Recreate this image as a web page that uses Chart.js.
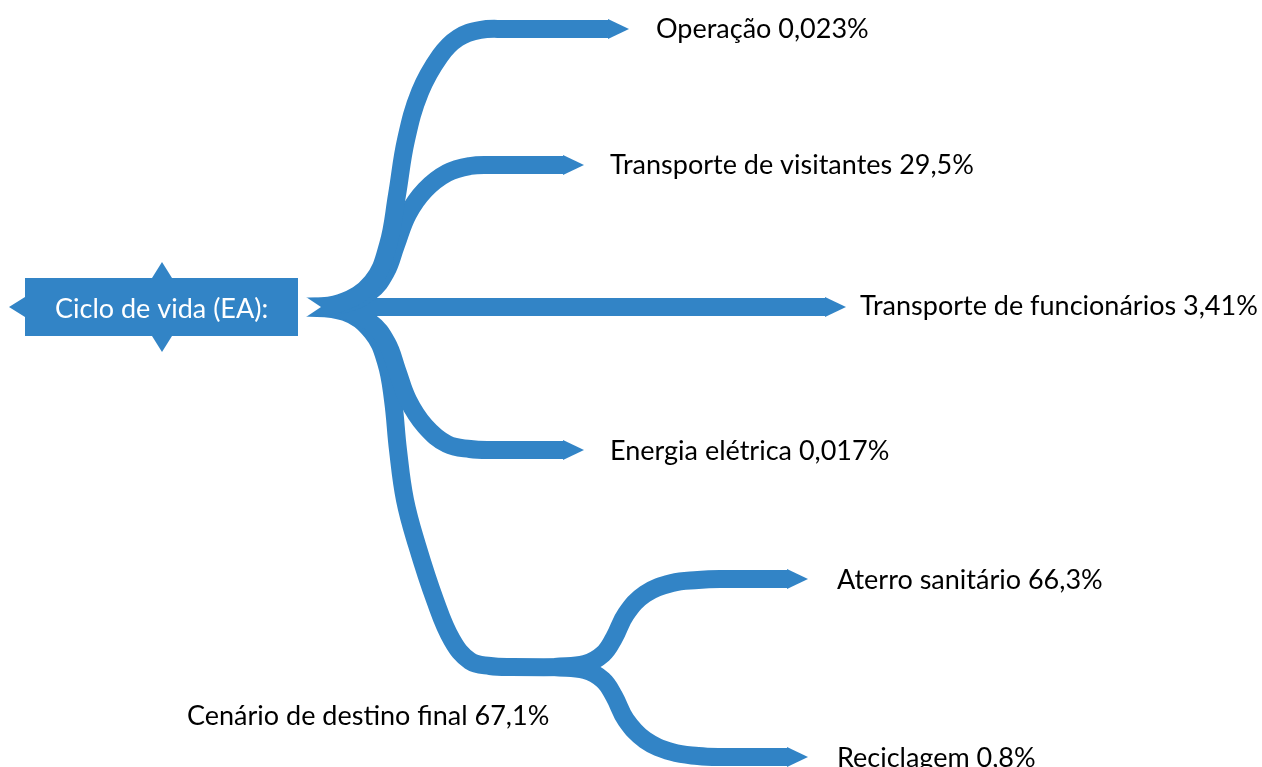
<!DOCTYPE html>
<html>
<head>
<meta charset="utf-8">
<script src="https://cdn.jsdelivr.net/npm/chart.js@4.4.1/dist/chart.umd.min.js"></script>
<style>
  html, body { margin: 0; padding: 0; background: #fff; overflow: hidden; }
  canvas { display: block; }
</style>
</head>
<body>
<canvas id="lifeCycle" width="1262" height="767"></canvas>
<script>
// --- content ---
const rootLabel = "Ciclo de vida (EA):";
const branchNames = [
  "Operação",
  "Transporte de visitantes",
  "Transporte de funcionários",
  "Energia elétrica",
  "Cenário de destino final",
  "Aterro sanitário",
  "Reciclagem"
];
const branchShares = [0.023, 29.5, 3.41, 0.017, 67.1, 66.3, 0.8];

// --- branch routes (page coordinates) ---
const opX  = [300, 340, 372, 388, 397, 406, 420, 440, 458, 480, 505, 608];
const opY  = [307, 303, 282, 245, 195, 140, 92, 56, 38, 30, 29, 29];
const visX = [300, 340, 370, 386, 396, 408, 425, 447, 470, 492, 563];
const visY = [307, 305, 292, 272, 245, 214, 190, 173, 166, 165, 165];
const funX = [300, 825];
const funY = [307, 307];
const eneX = [300, 340, 370, 387, 397, 408, 425, 447, 470, 492, 563];
const eneY = [307, 309, 322, 343, 370, 400, 426, 444, 449, 450, 450];
const cenX = [300, 345, 372, 386, 393, 398, 405, 417, 435, 452, 470, 490, 512, 600];
const cenY = [307, 312, 332, 362, 400, 450, 500, 545, 600, 640, 661, 666, 667, 667];
const ateX = [555, 585, 603, 614, 626, 645, 672, 698, 720, 787];
const ateY = [667, 664, 654, 638, 614, 594, 583, 580, 579, 579];
const recX = [555, 585, 603, 614, 626, 645, 672, 698, 720, 787];
const recY = [667, 670, 680, 696, 720, 740, 752, 756, 757, 757];

// label anchors (left x, text baseline)
const labelX = [656, 610, 860, 610, 187, 837, 837];
const labelY = [38, 174, 315, 460, 725, 589, 767];

// root node shape
const rootLeft = 25, rootRight = 298, rootTop = 278, rootBottom = 336, rootMidX = 162;
const rootSpike = 16, rootSpikeHalf = 10;

const BLUE = "#3284c6";
const LINE_W = 18;

function fmtShare(v) {
  return String(v).replace(".", ",") + "%";
}

function toPoints(xs, ys) {
  return xs.map((x, i) => ({ x: x, y: ys[i] }));
}

function makeArrowHead(len, h, color) {
  const c = document.createElement("canvas");
  c.width = len * 2;
  c.height = h;
  const g = c.getContext("2d");
  g.fillStyle = color;
  g.beginPath();
  g.moveTo(len, 0);
  g.lineTo(len * 2, h / 2);
  g.lineTo(len, h);
  g.closePath();
  g.fill();
  return c;
}
const arrowHead = makeArrowHead(21, 20, BLUE);

const routes = [
  [opX, opY], [visX, visY], [funX, funY], [eneX, eneY],
  [cenX, cenY], [ateX, ateY], [recX, recY]
];
const arrowed = [true, true, true, true, false, true, true];

const branchSets = routes.map((r, i) => {
  const pts = toPoints(r[0], r[1]);
  const last = pts.length - 1;
  return {
    data: pts,
    borderColor: BLUE,
    borderWidth: LINE_W,
    borderCapStyle: "butt",
    borderJoinStyle: "round",
    tension: 0.4,
    fill: false,
    pointStyle: arrowHead,
    pointRadius: ctx => (arrowed[i] && ctx.dataIndex === last) ? 5 : 0,
    clip: false,
    order: 3
  };
});

// root box outline
const rootX = [rootLeft - rootSpike, rootLeft, rootLeft, rootMidX - rootSpikeHalf, rootMidX, rootMidX + rootSpikeHalf,
  rootRight, rootRight, rootMidX + rootSpikeHalf, rootMidX, rootMidX - rootSpikeHalf, rootLeft, rootLeft, rootLeft - rootSpike];
const rootMidY = (rootTop + rootBottom) / 2;
const rootY = [rootMidY, rootMidY - 10, rootTop, rootTop, rootTop - rootSpike, rootTop,
  rootTop, rootBottom, rootBottom, rootBottom + rootSpike, rootBottom, rootBottom, rootMidY + 10, rootMidY];

const rootSet = {
  data: toPoints(rootX, rootY),
  borderWidth: 0,
  backgroundColor: BLUE,
  borderColor: BLUE,
  fill: "shape",
  tension: 0,
  pointRadius: 0,
  clip: false,
  order: 2
};

// white notch between the root box and the trunk
const notchX = [rootRight + 1, rootRight + 5, rootRight + 23, rootRight + 5, rootRight + 1];
const notchY = [rootMidY - 12, rootMidY - 12, rootMidY, rootMidY + 12, rootMidY + 12];
const notchSet = {
  data: toPoints(notchX, notchY),
  borderWidth: 0,
  backgroundColor: "#ffffff",
  borderColor: "#ffffff",
  fill: "shape",
  tension: 0,
  pointRadius: 0,
  clip: false,
  order: 1
};

const labelPlugin = {
  id: "branchLabels",
  afterDatasetsDraw(chart) {
    const { ctx, scales: { x, y } } = chart;
    ctx.save();
    ctx.font = "27px Lato";
    ctx.textBaseline = "alphabetic";
    ctx.textAlign = "left";
    ctx.fillStyle = "#000";
    branchNames.forEach((name, i) => {
      ctx.fillText(name + " " + fmtShare(branchShares[i]),
        x.getPixelForValue(labelX[i]), y.getPixelForValue(labelY[i]));
    });
    ctx.fillStyle = "#fff";
    ctx.fillText(rootLabel, x.getPixelForValue(55), y.getPixelForValue(318));
    ctx.restore();
  }
};

new Chart(document.getElementById("lifeCycle"), {
  type: "line",
  data: { datasets: [notchSet, rootSet, ...branchSets] },
  options: {
    responsive: false,
    animation: false,
    events: [],
    layout: { padding: 0, autoPadding: false },
    plugins: { legend: { display: false }, tooltip: { enabled: false } },
    scales: {
      x: { type: "linear", min: 0, max: 1262, display: false },
      y: { type: "linear", min: 0, max: 767, reverse: true, display: false }
    }
  },
  plugins: [labelPlugin]
});
</script>
</body>
</html>
